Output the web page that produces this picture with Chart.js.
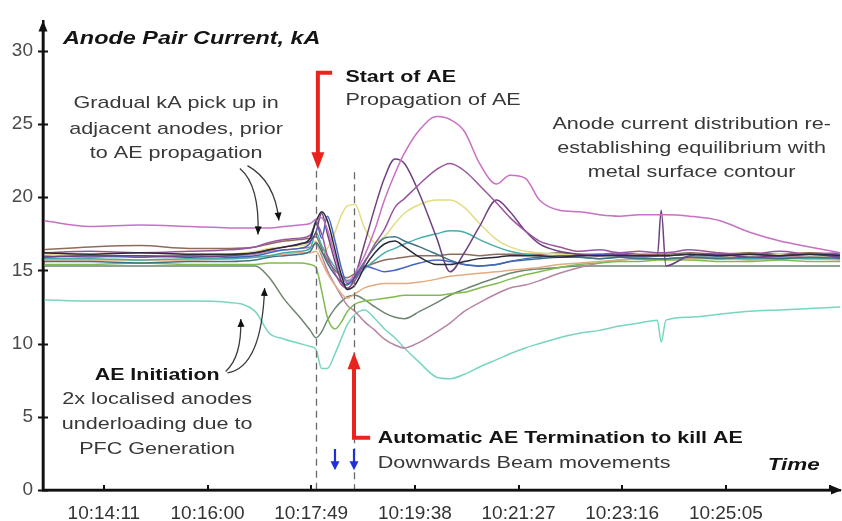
<!DOCTYPE html>
<html>
<head>
<meta charset="utf-8">
<script src="https://cdn.jsdelivr.net/npm/chart.js@4.4.1/dist/chart.umd.min.js"></script>
<style>
  html, body { margin: 0; padding: 0; background: #ffffff; }
  #wrap { width: 842px; height: 521px; position: relative; }
</style>
</head>
<body>
<div id="wrap"><canvas id="chart" width="842" height="521"></canvas></div>
<script>
// Sample instants shared by every anode-pair trace
const sampleTimes = [
  '10:13:07','10:13:56','10:14:49','10:15:41','10:16:23','10:16:50','10:17:05','10:17:21','10:17:37','10:17:48',
  '10:17:54','10:18:00','10:18:06','10:18:14','10:18:21','10:18:27','10:18:35','10:18:45','10:18:56','10:19:06',
  '10:19:17','10:19:27','10:19:43','10:20:01','10:20:15','10:20:30','10:20:46','10:21:04','10:21:18','10:21:34',
  '10:21:49','10:22:10','10:22:31','10:22:52','10:23:13','10:23:34','10:23:53','10:23:57','10:24:02','10:24:27',
  '10:24:58','10:25:30','10:26:02','10:26:33','10:27:05'
];

// Time axis labels (one tick every 1 min 49 s)
const tickLabels = ['10:14:11','10:16:00','10:17:49','10:19:38','10:21:27','10:23:16','10:25:05'];

// Anode pair currents, kA
const magentaPair = [18.4,18.0,18.1,18.0,17.9,17.9,17.9,18.0,18.1,18.2, 18.5,18.6,17.8,16.0,14.6,14.2,14.8,16.0,17.8,19.8, 21.6,23.0,24.6,25.5,25.3,24.5,22.3,20.9,21.5,21.3, 19.8,19.1,19.0,18.8,18.7,18.8,18.8,18.8,18.8,18.7, 18.4,17.6,17.0,16.6,16.2];
const purplePair  = [16.2,16.3,16.2,16.3,16.4,16.6,16.9,17.1,17.2,17.4, 18.2,17.5,16.0,14.8,14.0,13.8,14.3,15.5,16.8,17.8, 19.3,19.9,20.9,21.9,22.3,21.8,20.8,19.6,18.6,17.7, 17.0,16.6,16.3,16.4,16.2,16.3,16.2,16.2,16.2,16.4, 16.2,16.1,16.3,16.1,16.2];
const plumPair    = [15.9,16.0,16.0,15.9,16.0,16.2,16.4,16.6,16.8,17.0, 17.6,18.9,17.5,15.6,14.2,13.7,14.6,16.8,19.3,21.3, 22.6,22.3,20.2,17.2,14.9,16.2,18.0,19.8,19.0,17.7, 16.8,16.3,16.1,16.0,16.1,16.0,16.0,19.1,15.3,16.0, 16.1,15.9,16.0,16.1,15.9];
const yellowPair  = [16.1,16.1,16.2,16.1,16.1,16.3,16.5,16.6,16.7,16.8, 17.0,16.2,16.5,17.6,18.8,19.4,19.5,17.9,16.9,17.3, 18.2,18.9,19.5,19.8,19.8,19.3,18.2,17.1,16.6,16.3, 16.2,16.1,16.0,16.1,16.0,16.0,16.0,16.0,16.0,16.1, 16.0,16.0,16.1,16.0,16.0];
const blackPair   = [16.2,16.1,16.2,16.1,16.1,16.2,16.4,16.6,16.8,17.2, 18.3,19.0,18.4,16.4,14.6,13.7,14.0,15.2,16.2,16.8, 17.0,16.6,15.9,15.4,15.4,15.6,15.8,15.9,16.0,16.0, 16.0,15.9,16.0,16.0,16.0,16.0,16.0,16.0,16.0,16.1, 16.0,16.1,16.0,16.1,16.0];
const tealPair    = [15.8,15.8,15.7,15.8,15.8,15.9,16.0,16.2,16.3,16.5, 17.6,16.7,16.0,15.2,14.6,14.3,14.5,15.1,15.7,16.2, 16.5,16.8,17.2,17.5,17.7,17.6,17.1,16.6,16.3,16.1, 16.0,15.9,15.9,15.8,15.9,15.9,15.8,15.8,15.8,15.9, 15.9,15.8,15.9,15.8,15.9];
const slatePair   = [15.6,15.6,15.5,15.6,15.6,15.7,15.9,16.0,16.1,16.3, 16.9,16.3,15.5,14.7,14.2,14.0,14.6,15.6,16.6,17.2, 17.3,17.0,16.6,16.1,15.7,15.4,15.3,15.4,15.6,15.7, 15.8,15.9,15.9,15.8,15.9,15.8,15.8,15.8,15.8,15.9, 15.8,15.9,15.8,15.9,15.8];
const bluePair    = [15.9,16.0,15.9,16.0,15.9,16.0,16.2,16.4,16.5,16.9, 18.4,17.2,18.7,17.0,15.1,14.1,14.5,15.3,15.1,14.9, 15.0,15.2,15.5,15.7,15.6,15.4,15.3,15.4,15.6,15.8, 15.9,16.0,16.0,16.1,16.0,16.0,16.0,16.0,16.0,16.1, 16.0,16.1,16.0,16.1,16.1];
const greenPair   = [15.4,15.4,15.5,15.4,15.4,15.4,15.5,15.5,15.5,15.4, 15.2,13.6,11.8,11.0,11.5,12.2,12.7,12.9,13.0,13.1, 13.2,13.3,13.3,13.3,13.4,13.5,13.8,14.1,14.4,14.7, 14.9,15.2,15.4,15.5,15.6,15.6,15.7,15.7,15.7,15.7, 15.6,15.6,15.7,15.6,15.6];
const tanPair     = [15.7,15.7,15.7,15.7,15.8,15.9,16.0,16.1,16.2,16.2, 16.3,15.6,14.8,14.0,13.4,13.1,13.4,13.8,14.0,14.1, 14.1,14.1,14.2,14.4,14.6,14.7,14.8,14.9,15.0,15.1, 15.2,15.4,15.5,15.6,15.7,15.8,15.8,15.8,15.8,15.8, 15.8,15.7,15.8,15.8,15.7];
const grayGreenPair = [15.3,15.3,15.3,15.3,15.3,15.3,14.5,13.0,11.8,10.9, 10.4,10.8,11.6,12.4,12.9,13.2,13.3,13.0,12.5,12.1, 11.8,11.7,12.2,12.8,13.3,13.7,14.1,14.5,14.8,15.0, 15.1,15.2,15.3,15.3,15.3,15.3,15.3,15.3,15.3,15.3, 15.3,15.3,15.3,15.3,15.3];
const mauvePair   = [16.0,15.9,16.0,16.0,16.0,16.1,16.3,16.4,16.5,16.6, 16.8,16.0,15.0,14.0,13.2,12.6,12.2,11.5,10.9,10.3, 9.9,9.7,10.1,10.8,11.4,12.2,12.8,13.4,13.8,14.0, 14.3,14.8,15.2,15.5,15.7,15.8,15.8,15.8,15.8,15.9, 16.0,15.8,16.0,15.9,16.0];
const cyanPair    = [13.0,12.9,12.9,12.9,12.8,12.2,10.7,10.3,10.0,9.8, 9.6,8.3,8.3,9.3,10.4,11.3,12.0,12.3,11.7,11.0, 10.4,9.7,8.7,7.7,7.6,7.9,8.4,8.9,9.3,9.7, 10.0,10.4,10.7,10.9,11.2,11.4,11.6,10.1,11.6,11.8, 12.0,12.2,12.3,12.4,12.5];
const brownPair   = [16.4,16.6,16.7,16.5,16.5,16.6,16.8,17.0,17.1,17.2, 17.3,16.5,15.7,15.0,14.6,14.5,14.8,15.2,15.5,15.7, 15.8,15.9,16.0,16.0,16.1,16.1,16.0,16.1,16.1,16.1, 16.1,16.2,16.1,16.1,16.2,16.1,16.1,16.1,16.1,16.2, 16.1,16.2,16.1,16.2,16.1];

function clock(s) {
  const [h, m, sec] = s.split(':').map(Number);
  return h * 3600 + m * 60 + sec;
}

const traces = [
  { name: 'Pair A', values: blackPair,     color: '#2b2b38' },
  { name: 'Pair B', values: magentaPair,   color: '#c870c4' },
  { name: 'Pair C', values: purplePair,    color: '#9b559e' },
  { name: 'Pair D', values: plumPair,      color: '#6e4280' },
  { name: 'Pair E', values: bluePair,      color: '#4565c4' },
  { name: 'Pair F', values: slatePair,     color: '#3e7384' },
  { name: 'Pair G', values: tealPair,      color: '#48ada8' },
  { name: 'Pair H', values: yellowPair,    color: '#e2dc86' },
  { name: 'Pair I', values: greenPair,     color: '#80bb50' },
  { name: 'Pair J', values: tanPair,       color: '#e3ab80' },
  { name: 'Pair K', values: brownPair,     color: '#8d6c5c' },
  { name: 'Pair L', values: mauvePair,     color: '#b784a4' },
  { name: 'Pair M', values: grayGreenPair, color: '#6c8670' },
  { name: 'Pair N', values: cyanPair,      color: '#78d5c0' }
];

const tickStep = clock(tickLabels[1]) - clock(tickLabels[0]);
const tickValues = tickLabels.map(clock);
tickValues.push(tickValues[tickValues.length - 1] + tickStep);
const labelAt = new Map(tickLabels.map(l => [clock(l), l]));

// Annotation layout, in (time, kA)
const eventLines = [
  { t: '10:17:54', from: 21.8 },
  { t: '10:18:34', from: 21.7 }
];
const curvedPointers = [
  { from: ['10:16:34', 21.95], via: ['10:16:55', 20.8], to: ['10:16:53', 17.45] },
  { from: ['10:16:42', 22.15], via: ['10:17:11', 21.1], to: ['10:17:15', 18.4] },
  { from: ['10:16:19', 8.1],   via: ['10:16:36', 9.06], to: ['10:16:35', 11.68] },
  { from: ['10:16:21', 8.0],   via: ['10:16:57', 8.39], to: ['10:17:00', 13.8] }
];
const SANS = '"Liberation Sans", Arial, sans-serif';
const body = { font: '17px ' + SANS, color: '#383838', stretch: 1.27 };
const bold = { font: 'bold 17px ' + SANS, color: '#141414', stretch: 1.26 };
const notes = [
  { text: 'Anode Pair Current, kA', t: '10:13:28', v: 30.8, align: 'left', font: 'italic bold 18px ' + SANS, color: '#141414', stretch: 1.3 },
  { text: 'Start of AE', t: '10:18:25', v: 28.2, align: 'left', ...bold },
  { text: 'Propagation of AE', t: '10:18:25', v: 26.6, align: 'left', ...body },
  { text: 'Gradual kA pick up in', t: '10:15:27', v: 26.4, align: 'center', ...body },
  { text: 'adjacent anodes, prior', t: '10:15:27', v: 24.6, align: 'center', ...body },
  { text: 'to AE propagation', t: '10:15:27', v: 23.0, align: 'center', ...body },
  { text: 'Anode current distribution re-', t: '10:24:29', v: 25.0, align: 'center', ...body },
  { text: 'establishing equilibrium with', t: '10:24:29', v: 23.35, align: 'center', ...body },
  { text: 'metal surface contour', t: '10:24:29', v: 21.7, align: 'center', ...body },
  { text: 'AE Initiation', t: '10:15:07', v: 7.85, align: 'center', ...bold },
  { text: '2x localised anodes', t: '10:15:07', v: 6.17, align: 'center', ...body },
  { text: 'underloading due to', t: '10:15:07', v: 4.5, align: 'center', ...body },
  { text: 'PFC Generation', t: '10:15:07', v: 2.8, align: 'center', ...body },
  { text: 'Automatic AE Termination to kill AE', t: '10:18:59', v: 3.5, align: 'left', ...bold },
  { text: 'Downwards Beam movements', t: '10:18:59', v: 1.8, align: 'left', ...body },
  { text: 'Time', t: '10:25:49', v: 1.7, align: 'left', font: 'italic bold 17px ' + SANS, color: '#141414', stretch: 1.32 }
];
const startArrow = { t: '10:17:56', top: 28.5, tip: 21.9, hookTo: '10:18:11' };
const stopArrow  = { t: '10:18:34', tip: 9.4, base: 3.56, hookTo: '10:18:51' };
const beamMoves  = [{ t: '10:18:14', top: 2.8, tip: 1.35 }, { t: '10:18:34', top: 2.8, tip: 1.35 }];

function arrowHead(ctx, tipX, tipY, angle, len, half, color) {
  ctx.save();
  ctx.translate(tipX, tipY);
  ctx.rotate(angle);
  ctx.beginPath();
  ctx.moveTo(0, 0);
  ctx.lineTo(-len, -half);
  ctx.lineTo(-len, half);
  ctx.closePath();
  ctx.fillStyle = color;
  ctx.fill();
  ctx.restore();
}

// Heavy axis lines with arrow ends and crossing tick marks
const axisDecor = {
  id: 'axisDecor',
  afterDraw(chart) {
    const { ctx, chartArea: a, scales: { x, y } } = chart;
    ctx.save();
    ctx.strokeStyle = '#111';
    ctx.lineWidth = 2.6;
    ctx.beginPath();
    ctx.moveTo(a.left, a.top + 4);
    ctx.lineTo(a.left, a.bottom);
    ctx.lineTo(a.right - 4, a.bottom);
    ctx.stroke();
    ctx.lineWidth = 2;
    y.ticks.forEach(tk => {
      const p = Math.round(y.getPixelForValue(tk.value)) + 0.5;
      ctx.beginPath(); ctx.moveTo(a.left - 5, p); ctx.lineTo(a.left + 5, p); ctx.stroke();
    });
    x.ticks.forEach(tk => {
      const p = Math.round(x.getPixelForValue(tk.value));
      ctx.beginPath(); ctx.moveTo(p, a.bottom - 5); ctx.lineTo(p, a.bottom + 1); ctx.stroke();
    });
    arrowHead(ctx, a.left, a.top - 1, -Math.PI / 2, 11, 4.5, '#111');
    arrowHead(ctx, a.right + 2, a.bottom, 0, 11, 4.5, '#111');
    ctx.restore();
  }
};

const notesPlugin = {
  id: 'notes',
  afterDatasetsDraw(chart) {
    const { ctx, scales: { x, y } } = chart;
    const px = s => x.getPixelForValue(clock(s));
    const py = v => y.getPixelForValue(v);
    ctx.save();

    // event markers
    ctx.strokeStyle = '#6a6a6a';
    ctx.lineWidth = 1.3;
    ctx.setLineDash([7, 5]);
    eventLines.forEach(e => {
      const X = Math.round(px(e.t)) + 0.5;
      ctx.beginPath(); ctx.moveTo(X, py(e.from)); ctx.lineTo(X, py(0)); ctx.stroke();
    });
    ctx.setLineDash([]);

    // curved pointers
    ctx.strokeStyle = '#3a3a3a';
    ctx.lineWidth = 1.3;
    curvedPointers.forEach(c => {
      const x0 = px(c.from[0]), y0 = py(c.from[1]);
      const x1 = px(c.via[0]),  y1 = py(c.via[1]);
      const x2 = px(c.to[0]),   y2 = py(c.to[1]);
      ctx.beginPath(); ctx.moveTo(x0, y0); ctx.quadraticCurveTo(x1, y1, x2, y2); ctx.stroke();
      arrowHead(ctx, x2, y2, Math.atan2(y2 - y1, x2 - x1), 8, 3.5, '#111');
    });

    // red arrows
    const red = '#e8241c';
    ctx.strokeStyle = red;
    ctx.lineWidth = 4;
    ctx.lineJoin = 'miter';
    let X = px(startArrow.t);
    ctx.beginPath();
    ctx.moveTo(px(startArrow.hookTo), py(startArrow.top));
    ctx.lineTo(X, py(startArrow.top));
    ctx.lineTo(X, py(startArrow.tip) - 12);
    ctx.stroke();
    arrowHead(ctx, X, py(startArrow.tip), Math.PI / 2, 17, 6.5, red);

    X = px(stopArrow.t);
    ctx.beginPath();
    ctx.moveTo(px(stopArrow.hookTo), py(stopArrow.base));
    ctx.lineTo(X, py(stopArrow.base));
    ctx.lineTo(X, py(stopArrow.tip) + 12);
    ctx.stroke();
    arrowHead(ctx, X, py(stopArrow.tip), -Math.PI / 2, 17, 6.5, red);

    // beam movements
    const blue = '#1f30d8';
    ctx.strokeStyle = blue;
    ctx.lineWidth = 2.2;
    beamMoves.forEach(b => {
      const bx = px(b.t);
      ctx.beginPath(); ctx.moveTo(bx, py(b.top)); ctx.lineTo(bx, py(b.tip) - 6); ctx.stroke();
      arrowHead(ctx, bx, py(b.tip), Math.PI / 2, 9, 4.5, blue);
    });

    // text, drawn slightly widened
    ctx.textBaseline = 'middle';
    notes.forEach(n => {
      ctx.save();
      ctx.translate(px(n.t), py(n.v));
      ctx.scale(n.stretch, 1);
      ctx.font = n.font;
      ctx.fillStyle = n.color;
      ctx.textAlign = n.align;
      ctx.fillText(n.text, 0, 0);
      ctx.restore();
    });
    ctx.restore();
  }
};

new Chart(document.getElementById('chart'), {
  type: 'line',
  data: {
    datasets: traces.map(tr => ({
      label: tr.name,
      data: tr.values.map((v, i) => ({ x: clock(sampleTimes[i]), y: v })),
      borderColor: tr.color,
      backgroundColor: tr.color,
      borderWidth: 1.5,
      pointRadius: 0,
      fill: false,
      cubicInterpolationMode: 'monotone'
    }))
  },
  options: {
    responsive: false,
    animation: false,
    devicePixelRatio: 1,
    layout: { padding: { top: 13, right: 2, left: 0, bottom: 0 } },
    plugins: { legend: { display: false }, tooltip: { enabled: false } },
    scales: {
      x: {
        type: 'linear',
        min: clock('10:13:07'),
        max: clock('10:27:05'),
        afterBuildTicks: s => { s.ticks = tickValues.map(v => ({ value: v })); },
        afterFit: s => { s.height = 31; },
        grid: { display: false, drawTicks: false },
        border: { display: true, color: '#111', width: 2.5 },
        ticks: {
          autoSkip: false,
          maxRotation: 0,
          padding: 12,
          color: '#333',
          font: { family: SANS, size: 19 },
          callback: v => labelAt.get(v) || ''
        }
      },
      y: {
        min: 0,
        max: 32,
        afterBuildTicks: s => { s.ticks = s.ticks.filter(t => t.value % 5 === 0); },
        afterFit: s => { s.width = 43; },
        grid: { display: false, drawTicks: false },
        border: { display: true, color: '#111', width: 2.5 },
        ticks: {
          stepSize: 5,
          padding: 10,
          color: '#4a4a4a',
          font: { family: SANS, size: 19 }
        }
      }
    }
  },
  plugins: [notesPlugin, axisDecor]
});
</script>
</body>
</html>
